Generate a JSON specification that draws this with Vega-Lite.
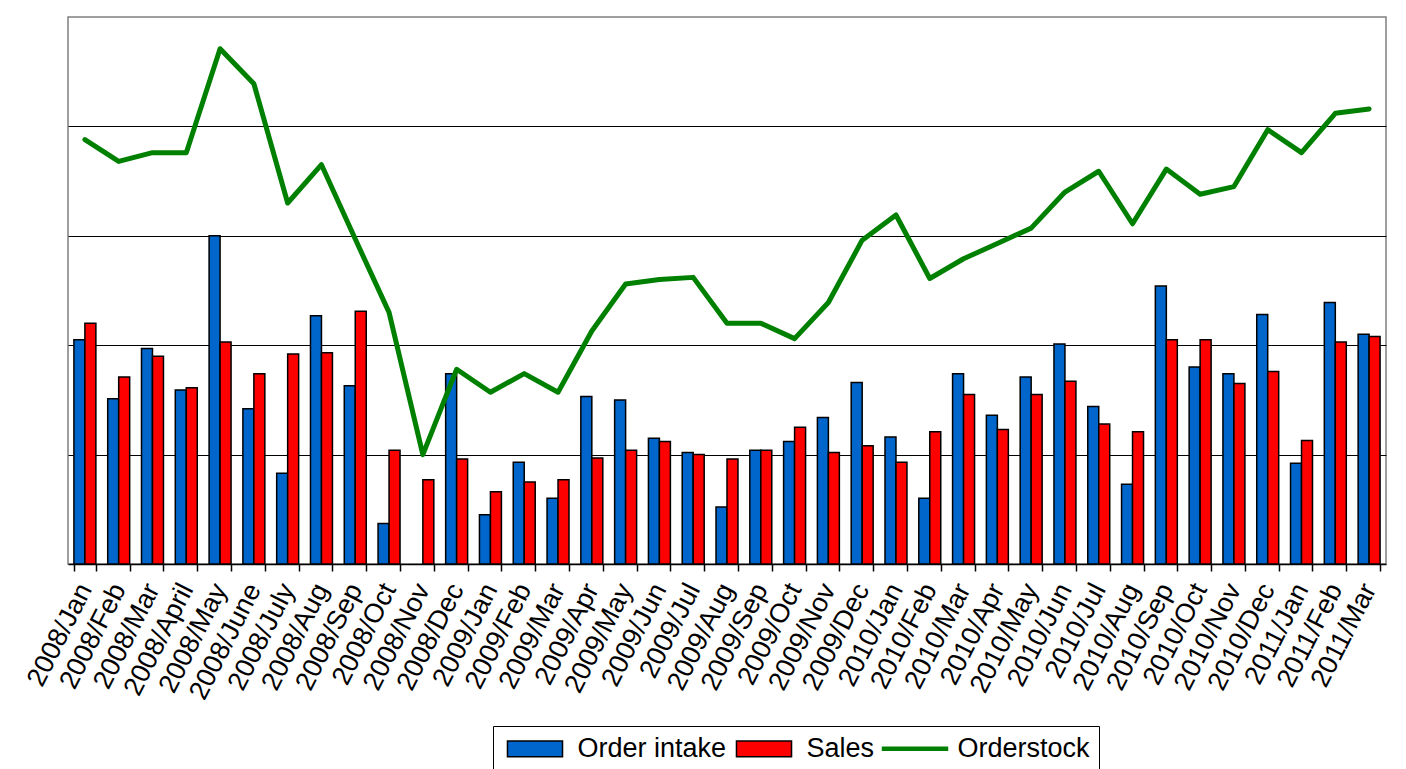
{
  "$schema": "https://vega.github.io/schema/vega-lite/v6.json",
  "width": 1318,
  "height": 547,
  "autosize": {"type": "none"},
  "padding": {"left": 68, "top": 17, "right": 20, "bottom": 205},
  "background": "white",
  "config": {
    "view": {"stroke": "#808080", "strokeWidth": 1.5},
    "font": "Liberation Sans"
  },
  "data": {
    "values": [
      {"month": "2008/Jan", "intake": 2.05, "sales": 2.20, "stock": 3.88},
      {"month": "2008/Feb", "intake": 1.51, "sales": 1.71, "stock": 3.68},
      {"month": "2008/Mar", "intake": 1.97, "sales": 1.90, "stock": 3.76},
      {"month": "2008/April", "intake": 1.59, "sales": 1.61, "stock": 3.76},
      {"month": "2008/May", "intake": 3.00, "sales": 2.03, "stock": 4.71},
      {"month": "2008/June", "intake": 1.42, "sales": 1.74, "stock": 4.39},
      {"month": "2008/July", "intake": 0.83, "sales": 1.92, "stock": 3.30},
      {"month": "2008/Aug", "intake": 2.27, "sales": 1.93, "stock": 3.65},
      {"month": "2008/Sep", "intake": 1.63, "sales": 2.31, "stock": 2.97},
      {"month": "2008/Oct", "intake": 0.37, "sales": 1.04, "stock": 2.30},
      {"month": "2008/Nov", "intake": null, "sales": 0.77, "stock": 1.00},
      {"month": "2008/Dec", "intake": 1.74, "sales": 0.96, "stock": 1.78},
      {"month": "2009/Jan", "intake": 0.45, "sales": 0.66, "stock": 1.57},
      {"month": "2009/Feb", "intake": 0.93, "sales": 0.75, "stock": 1.74},
      {"month": "2009/Mar", "intake": 0.60, "sales": 0.77, "stock": 1.57},
      {"month": "2009/Apr", "intake": 1.53, "sales": 0.97, "stock": 2.13},
      {"month": "2009/May", "intake": 1.50, "sales": 1.04, "stock": 2.56},
      {"month": "2009/Jun", "intake": 1.15, "sales": 1.12, "stock": 2.60},
      {"month": "2009/Jul", "intake": 1.02, "sales": 1.00, "stock": 2.62},
      {"month": "2009/Aug", "intake": 0.52, "sales": 0.96, "stock": 2.20},
      {"month": "2009/Sep", "intake": 1.04, "sales": 1.04, "stock": 2.20},
      {"month": "2009/Oct", "intake": 1.12, "sales": 1.25, "stock": 2.06},
      {"month": "2009/Nov", "intake": 1.34, "sales": 1.02, "stock": 2.39},
      {"month": "2009/Dec", "intake": 1.66, "sales": 1.08, "stock": 2.96},
      {"month": "2010/Jan", "intake": 1.16, "sales": 0.93, "stock": 3.19},
      {"month": "2010/Feb", "intake": 0.60, "sales": 1.21, "stock": 2.61},
      {"month": "2010/Mar", "intake": 1.74, "sales": 1.55, "stock": 2.79},
      {"month": "2010/Apr", "intake": 1.36, "sales": 1.23, "stock": 2.93},
      {"month": "2010/May", "intake": 1.71, "sales": 1.55, "stock": 3.07},
      {"month": "2010/Jun", "intake": 2.01, "sales": 1.67, "stock": 3.40},
      {"month": "2010/Jul", "intake": 1.44, "sales": 1.28, "stock": 3.59},
      {"month": "2010/Aug", "intake": 0.73, "sales": 1.21, "stock": 3.11},
      {"month": "2010/Sep", "intake": 2.54, "sales": 2.05, "stock": 3.61},
      {"month": "2010/Oct", "intake": 1.80, "sales": 2.05, "stock": 3.38},
      {"month": "2010/Nov", "intake": 1.74, "sales": 1.65, "stock": 3.45},
      {"month": "2010/Dec", "intake": 2.28, "sales": 1.76, "stock": 3.97},
      {"month": "2011/Jan", "intake": 0.92, "sales": 1.13, "stock": 3.76},
      {"month": "2011/Feb", "intake": 2.39, "sales": 2.03, "stock": 4.12},
      {"month": "2011/Mar", "intake": 2.10, "sales": 2.08, "stock": 4.16}
    ]
  },
  "encoding": {
    "x": {
      "field": "month",
      "type": "nominal",
      "sort": null,
      "scale": {"paddingInner": 0.35, "paddingOuter": 0.175},
      "axis": {
        "title": null,
        "tickBand": "extent",
        "labelAngle": -63,
        "labelAlign": "right",
        "labelBaseline": "middle",
        "labelFontSize": 27,
        "labelFont": "Liberation Sans",
        "labelColor": "black",
        "labelPadding": 14,
        "labelOverlap": false,
        "labelBound": false,
        "labelLimit": 0,
        "tickColor": "black",
        "tickSize": 7,
        "tickWidth": 1.5,
        "domainColor": "black",
        "domainWidth": 1.5,
        "grid": false
      }
    }
  },
  "layer": [
    {
      "transform": [{"fold": ["intake", "sales"], "as": ["series", "value"]}],
      "mark": {"type": "bar", "stroke": "black", "strokeWidth": 1.5},
      "encoding": {
        "xOffset": {"field": "series", "type": "nominal", "scale": {"domain": ["intake", "sales"]}},
        "y": {
          "field": "value",
          "type": "quantitative",
          "scale": {"domain": [0, 5], "nice": false},
          "axis": {
            "title": null,
            "labels": false,
            "ticks": false,
            "domain": false,
            "grid": true,
            "values": [1, 2, 3, 4],
            "gridColor": "black",
            "gridWidth": 1,
            "gridOpacity": 1
          }
        },
        "fill": {
          "field": "series",
          "type": "nominal",
          "scale": {"domain": ["intake", "sales", "stock"], "range": ["#0066CC", "#FF0000", "#008000"]}
        }
      }
    },
    {
      "mark": {"type": "line", "strokeWidth": 5, "strokeCap": "round", "strokeJoin": "round"},
      "encoding": {
        "y": {"field": "stock", "type": "quantitative"},
        "stroke": {
          "datum": "stock",
          "scale": {"domain": ["intake", "sales", "stock"], "range": ["black", "black", "#008000"]}
        }
      }
    },
    {
      "transform": [{"fold": ["intake", "sales", "stock"], "as": ["series", "value"]}],
      "mark": {"type": "point", "filled": true, "opacity": 0},
      "encoding": {
        "y": {"field": "value", "type": "quantitative"},
        "fill": {
          "field": "series",
          "type": "nominal",
          "legend": {
            "orient": "none",
            "legendX": 425,
            "legendY": 709,
            "direction": "horizontal",
            "title": null,
            "strokeColor": "black",
            "fillColor": "white",
            "padding": 9,
            "labelFontSize": 27,
            "labelFont": "Liberation Sans",
            "labelColor": "black",
            "symbolSize": 225,
            "symbolStrokeWidth": 1.5,
            "symbolOpacity": 1,
            "symbolOffset": 19.5,
            "labelOffset": 29,
            "columnPadding": 4,
            "labelExpr": "datum.value === 'intake' ? 'Order intake' : datum.value === 'sales' ? 'Sales' : 'Orderstock'"
          }
        },
        "stroke": {"field": "series", "type": "nominal"},
        "shape": {
          "field": "series",
          "type": "nominal",
          "scale": {
            "domain": ["intake", "sales", "stock"],
            "range": ["M-3.67,-1.05H3.67V1.05H-3.67Z", "M-3.67,-1.05H3.67V1.05H-3.67Z", "M-4.33,-0.2H4.33V0.2H-4.33Z"]
          }
        }
      }
    }
  ]
}
